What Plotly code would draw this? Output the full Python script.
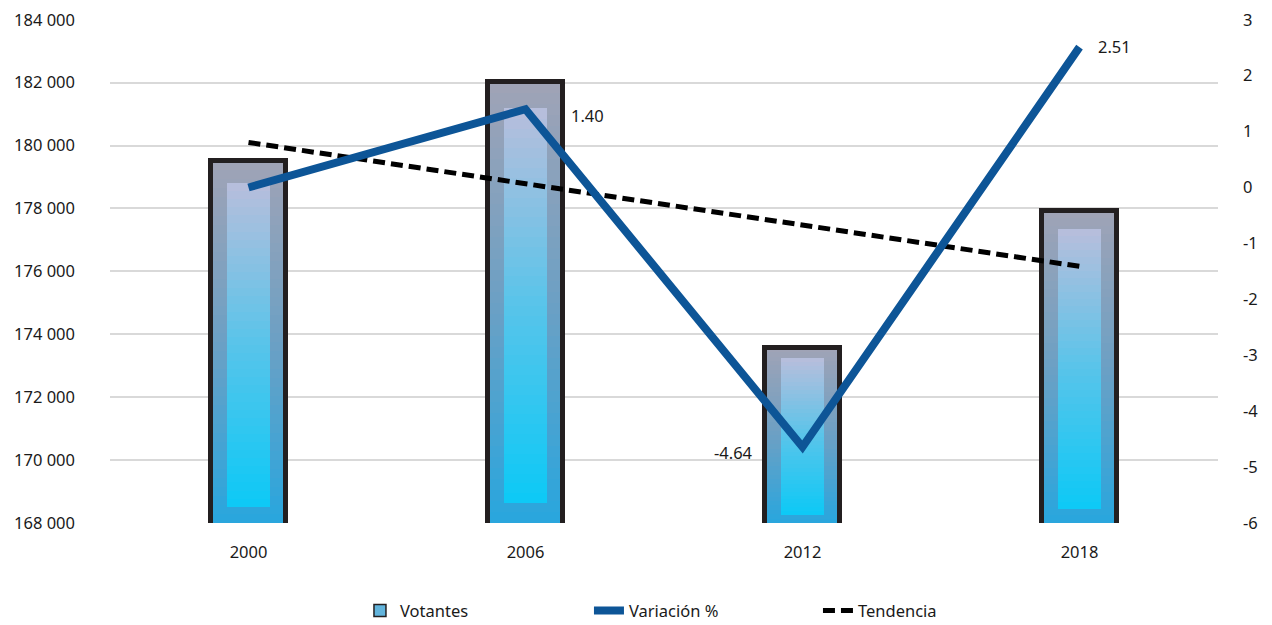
import plotly.graph_objects as go

# ---- data ----
years = ["2000", "2006", "2012", "2018"]
votantes = [179500, 182010, 173570, 177930]
variacion = [0.00, 1.40, -4.64, 2.51]
tendencia = [180100, 178780, 177470, 176160]
show_label = [False, True, True, True]
left_ticks = [168000, 170000, 172000, 174000, 176000, 178000, 180000, 182000, 184000]
right_ticks = [-6, -5, -4, -3, -2, -1, 0, 1, 2, 3]

Y_MIN, Y_MAX = 168000, 184000
R_MIN, R_MAX = -6, 3
EPS = 0.0015  # tiny headroom so the top gridline is drawn
N = 40

def lerp(c1, c2, t):
    return "rgb({},{},{})".format(*[round(a + (b - a) * t) for a, b in zip(c1, c2)])

def lerp3(c_bot, c_mid, c_top, t):
    if t < 0.5:
        return lerp(c_bot, c_mid, t / 0.5)
    return lerp(c_mid, c_top, (t - 0.5) / 0.5)

OUT_BOT, OUT_MID, OUT_TOP = (40, 166, 222), (108, 160, 196), (160, 163, 182)
IN_BOT, IN_MID, IN_TOP = (12, 201, 246), (88, 196, 234), (184, 190, 220)

xi = {yr: i for i, yr in enumerate(years)}

ox, ob, oy, oc = [], [], [], []
ix, ib, iy, ic = [], [], [], []
for yr, v in zip(years, votantes):
    h = v - Y_MIN
    for k in range(N):
        t = (k + 0.5) / N
        ox.append(xi[yr]); ob.append(Y_MIN + h * k / N); oy.append(h / N * 1.03)
        oc.append(lerp3(OUT_BOT, OUT_MID, OUT_TOP, t))
    lo, hi = Y_MIN + 0.045 * h, Y_MIN + 0.94 * h
    hh = hi - lo
    for k in range(N):
        t = (k + 0.5) / N
        ix.append(xi[yr]); ib.append(lo + hh * k / N); iy.append(hh / N * 1.03)
        ic.append(lerp3(IN_BOT, IN_MID, IN_TOP, t))

xpos = [xi[y] for y in years]

fig = go.Figure()

fig.add_trace(go.Bar(x=ox, y=oy, base=ob, width=0.27, marker=dict(color=oc, line=dict(width=0)),
                     showlegend=False, hoverinfo="skip"))
fig.add_trace(go.Bar(x=ix, y=iy, base=ib, width=0.158, marker=dict(color=ic, line=dict(width=0)),
                     showlegend=False, hoverinfo="skip"))
# outline
fig.add_trace(go.Bar(x=xpos, y=[v - Y_MIN + 600 for v in votantes], base=Y_MIN - 600, width=0.27,
                     marker=dict(color="rgba(0,0,0,0)", line=dict(color="#231f20", width=5)),
                     showlegend=False, hoverinfo="skip"))
# legend entry for bars (off-screen, zero height)
fig.add_trace(go.Bar(x=[xpos[0]], y=[0], base=[Y_MIN - 5000], name="Votantes", width=0.27,
                     marker=dict(color="#62b4dc", line=dict(color="#231f20", width=1.5)),
                     hoverinfo="skip"))

fig.add_trace(go.Scatter(x=xpos, y=variacion, yaxis="y2", name="Variación %", mode="lines",
                         line=dict(color="#0d5597", width=8)))
fig.add_trace(go.Scatter(x=xpos, y=tendencia, name="Tendencia", mode="lines",
                         line=dict(color="#000000", width=5, dash="12px,6px")))

anns = []
offsets = {1: ("left", 43, -6), 2: ("right", -48, -6), 3: ("left", 16, 1)}
for i, v in enumerate(variacion):
    if not show_label[i]:
        continue
    xa, xs, ys = offsets[i]
    anns.append(dict(x=xpos[i], y=v, xref="x", yref="y2", text="{:.2f}".format(v), showarrow=False,
                     xanchor=xa, yanchor="middle", xshift=xs, yshift=ys,
                     font=dict(size=16.5, color="#1a1a1a")))

FONT = "Noto Sans, Open Sans, sans-serif"
fig.update_layout(
    width=1264, height=617,
    margin=dict(l=102, r=54, t=11, b=102, autoexpand=False),
    paper_bgcolor="white", plot_bgcolor="white",
    barmode="overlay", bargap=0,
    font=dict(family=FONT, size=16.5, color="#1a1a1a"),
    xaxis=dict(range=[-0.5, 3.5], tickvals=xpos, ticktext=years, showgrid=False,
               showline=False, zeroline=False, ticks="", ticklabelstandoff=17,
               tickfont=dict(size=16.5), automargin=False),
    yaxis=dict(range=[Y_MIN, Y_MAX + (Y_MAX - Y_MIN) * EPS], tickvals=left_ticks,
               ticktext=["{:,}".format(t).replace(",", " ") for t in left_ticks],
               showgrid=True, gridcolor="#d9d9d9", gridwidth=2, zeroline=False, showline=False,
               ticks="", ticklabelstandoff=34, tickfont=dict(size=16.5), automargin=False,
               ticklabeloverflow="allow"),
    yaxis2=dict(range=[R_MIN, R_MAX + (R_MAX - R_MIN) * EPS], tickvals=right_ticks,
                ticktext=[str(t) for t in right_ticks],
                overlaying="y", side="right", showgrid=False,
                zeroline=False, showline=False, ticks="", ticklabelstandoff=24,
                tickfont=dict(size=16.5), automargin=False, ticklabeloverflow="allow"),
    legend=dict(orientation="h", x=0.2256, xanchor="left", y=-0.174, yanchor="middle",
                font=dict(size=16.5), traceorder="normal",
                entrywidth=184, entrywidthmode="pixels"),
    annotations=anns,
    hovermode=False,
)

fig.write_html("out.html")
